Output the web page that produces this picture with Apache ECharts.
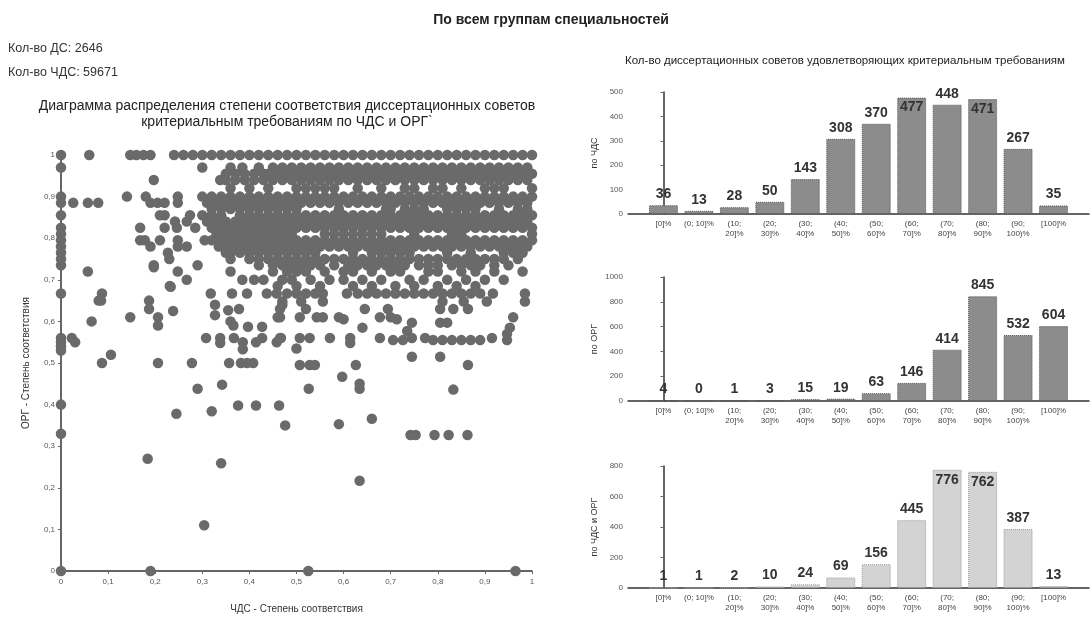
<!DOCTYPE html>
<html><head><meta charset="utf-8">
<script src="https://cdn.jsdelivr.net/npm/echarts/dist/echarts.min.js"></script>
<style>html,body{margin:0;padding:0;background:#fff}#c{width:1092px;height:619px}</style>
</head><body><div id="c"></div>
<script>
// ---- bar chart data ----
const categories = ['[0]%', '(0; 10]%', '(10;\n20]%', '(20;\n30]%', '(30;\n40]%', '(40;\n50]%', '(50;\n60]%', '(60;\n70]%', '(70;\n80]%', '(80;\n90]%', '(90;\n100)%', '[100]%'];
const chdsCounts = [36, 13, 28, 50, 143, 308, 370, 477, 448, 471, 267, 35];
const orgCounts  = [4, 0, 1, 3, 15, 19, 63, 146, 414, 845, 532, 604];
const bothCounts = [1, 1, 2, 10, 24, 69, 156, 445, 776, 762, 387, 13];

// ---- scatter data (x = ЧДС, y = ОРГ), rows of points sharing the same y ----
const scatterRowY = [1, 0.97, 0.955, 0.94, 0.92, 0.90, 0.885, 0.87, 0.855, 0.84, 0.825, 0.81, 0.795, 0.78, 0.765, 0.75, 0.735, 0.72, 0.70, 0.685, 0.667];
const scatterRowX = [
  [0,0.06,0.147,0.16,0.175,0.19,0.24,0.26,0.28,0.30,0.32,0.34,0.36,0.38,0.40,0.42,0.44,0.46,0.48,0.50,0.52,0.54,0.56,0.58,0.60,0.62,0.64,0.66,0.68,0.70,0.72,0.74,0.76,0.78,0.80,0.82,0.84,0.86,0.88,0.90,0.92,0.94,0.96,0.98,1],
  [0,0.3,0.36,0.385,0.42,0.45,0.47,0.49,0.51,0.53,0.55,0.57,0.59,0.61,0.63,0.65,0.67,0.69,0.71,0.73,0.75,0.77,0.79,0.81,0.83,0.85,0.87,0.89,0.91,0.93,0.95,0.97,0.99],
  [0.35,0.37,0.39,0.41,0.43,0.44,0.46,0.48,0.50,0.52,0.54,0.56,0.58,0.60,0.62,0.64,0.66,0.68,0.70,0.72,0.74,0.76,0.78,0.80,0.82,0.84,0.86,0.88,0.90,0.92,0.94,0.96,0.98,1],
  [0.197,0.338,0.35,0.37,0.39,0.41,0.43,0.45,0.47,0.49,0.51,0.53,0.55,0.57,0.59,0.61,0.63,0.65,0.67,0.69,0.71,0.73,0.75,0.77,0.79,0.81,0.83,0.85,0.87,0.89,0.91,0.93,0.95,0.97,0.99],
  [0.36,0.40,0.44,0.50,0.52,0.54,0.56,0.58,0.63,0.68,0.73,0.75,0.79,0.81,0.85,0.90,0.92,0.94,1],
  [0,0.14,0.18,0.248,0.30,0.32,0.34,0.36,0.38,0.40,0.42,0.44,0.46,0.48,0.50,0.52,0.54,0.56,0.58,0.60,0.62,0.64,0.66,0.68,0.70,0.72,0.74,0.76,0.78,0.80,0.82,0.84,0.86,0.88,0.90,0.92,0.94,0.96,0.98,1],
  [0,0.026,0.057,0.079,0.19,0.205,0.22,0.248,0.31,0.33,0.35,0.37,0.39,0.41,0.43,0.45,0.47,0.49,0.51,0.53,0.55,0.57,0.59,0.61,0.63,0.65,0.67,0.69,0.71,0.73,0.75,0.77,0.79,0.81,0.83,0.85,0.87,0.89,0.91,0.93,0.95,0.97,0.99],
  [0.32,0.34,0.36,0.38,0.40,0.42,0.44,0.46,0.48,0.50,0.59,0.69,0.70,0.73,0.75,0.77,0.82,0.84,0.86,0.88,0.93,0.97,0.99],
  [0,0.21,0.22,0.274,0.30,0.32,0.34,0.38,0.40,0.42,0.44,0.46,0.48,0.50,0.52,0.54,0.56,0.58,0.60,0.62,0.64,0.66,0.68,0.70,0.72,0.74,0.76,0.78,0.80,0.82,0.84,0.86,0.88,0.90,0.92,0.94,0.96,0.98,1],
  [0.242,0.267,0.31,0.33,0.35,0.37,0.39,0.41,0.43,0.45,0.47,0.49,0.51,0.53,0.55,0.57,0.59,0.61,0.63,0.65,0.67,0.69,0.71,0.73,0.75,0.77,0.79,0.81,0.83,0.85,0.87,0.89,0.91,0.93,0.95,0.97,0.99],
  [0,0.168,0.22,0.246,0.285,0.32,0.34,0.36,0.38,0.40,0.42,0.44,0.46,0.48,0.50,0.52,0.54,0.56,0.58,0.60,0.62,0.64,0.66,0.68,0.70,0.72,0.74,0.76,0.78,0.80,0.82,0.84,0.86,0.88,0.90,0.92,0.94,0.96,0.98,1],
  [0,0.33,0.35,0.37,0.39,0.41,0.43,0.45,0.47,0.49,0.56,0.58,0.60,0.62,0.64,0.66,0.68,0.75,0.83,0.85,1],
  [0,0.168,0.178,0.21,0.248,0.305,0.32,0.34,0.36,0.38,0.40,0.42,0.44,0.46,0.48,0.50,0.52,0.54,0.56,0.58,0.60,0.62,0.64,0.66,0.68,0.70,0.72,0.74,0.76,0.78,0.80,0.82,0.84,0.86,0.88,0.90,0.92,0.94,0.96,0.98,1],
  [0,0.19,0.248,0.267,0.335,0.35,0.37,0.39,0.41,0.43,0.45,0.47,0.49,0.51,0.53,0.55,0.57,0.59,0.61,0.63,0.65,0.67,0.69,0.71,0.73,0.75,0.77,0.79,0.81,0.83,0.85,0.87,0.89,0.91,0.93,0.95,0.97,0.99],
  [0,0.227,0.35,0.36,0.38,0.40,0.42,0.44,0.46,0.48,0.50,0.52,0.54,0.62,0.66,0.68,0.70,0.72,0.74,0.82,0.87,0.94,0.96,0.98],
  [0,0.23,0.36,0.40,0.42,0.44,0.46,0.48,0.50,0.52,0.54,0.56,0.58,0.60,0.62,0.64,0.66,0.68,0.70,0.72,0.74,0.76,0.78,0.80,0.82,0.84,0.86,0.88,0.90,0.92,0.94,0.97],
  [0,0.197,0.29,0.42,0.45,0.47,0.49,0.51,0.53,0.55,0.58,0.61,0.63,0.65,0.67,0.69,0.71,0.73,0.76,0.78,0.80,0.83,0.85,0.87,0.89,0.92,0.95],
  [0.057,0.248,0.36,0.45,0.48,0.50,0.52,0.56,0.60,0.62,0.66,0.70,0.72,0.78,0.80,0.85,0.88,0.92,0.98],
  [0.267,0.385,0.41,0.43,0.47,0.49,0.53,0.57,0.60,0.64,0.68,0.74,0.77,0.82,0.86,0.90,0.94],
  [0.231,0.46,0.50,0.55,0.62,0.66,0.71,0.75,0.80,0.84,0.88],
  [0,0.087,0.318,0.363,0.395,0.437,0.458,0.48,0.50,0.52,0.54,0.556,0.607,0.63,0.65,0.67,0.69,0.71,0.73,0.75,0.77,0.79,0.81,0.83,0.85,0.87,0.89,0.917,0.985]
];
const scatterSingles = [
  [0.47,0.648],[0.51,0.648],[0.556,0.648],[0.81,0.648],[0.855,0.648],[0.904,0.648],[0.985,0.648],
  [0.52,0.63],[0.645,0.63],[0.694,0.63],[0.805,0.63],[0.833,0.63],[0.864,0.63],
  [0.465,0.61],[0.507,0.61],[0.543,0.61],[0.556,0.61],[0.59,0.61],[0.6,0.605],[0.677,0.61],[0.7,0.61],[0.713,0.605],[0.96,0.61],
  [0.745,0.597],[0.805,0.597],[0.82,0.597],[0.64,0.585],[0.953,0.585],[0.735,0.577],
  [0.465,0.56],[0.507,0.56],[0.528,0.56],[0.571,0.56],[0.614,0.56],[0.677,0.56],[0.705,0.555],[0.726,0.555],[0.745,0.56],[0.773,0.56],
  [0.79,0.555],[0.81,0.555],[0.83,0.555],[0.85,0.555],[0.87,0.555],[0.89,0.555],[0.915,0.56],[0.947,0.555],[0.947,0.57],
  [0.5,0.535],[0.614,0.548],[0.745,0.515],[0.805,0.515],
  [0.507,0.495],[0.528,0.495],[0.539,0.495],[0.626,0.495],[0.864,0.495],[0.597,0.467],
  [0.29,0.438],[0.342,0.448],[0.526,0.438],[0.634,0.45],[0.634,0.438],[0.833,0.436],
  [0.66,0.366],[0.476,0.35],[0.59,0.353],
  [0.742,0.327],[0.753,0.327],[0.793,0.327],[0.823,0.327],[0.863,0.327],
  [0,0.4],[0,0.33],[0.245,0.378],[0.32,0.384],[0.376,0.398],[0.414,0.398],[0.463,0.398],
  [0.184,0.27],[0.34,0.259],[0.634,0.217],[0.304,0.11],
  [0,0],[0.19,0],[0.525,0],[0.965,0],
  [0.08,0.65],[0.065,0.6],[0.147,0.61],[0.187,0.65],[0.187,0.63],[0.206,0.61],[0.206,0.59],[0.238,0.625],
  [0.327,0.64],[0.327,0.615],[0.355,0.627],[0.36,0.6],[0.366,0.59],[0.378,0.63],[0.397,0.587],[0.427,0.587],
  [0.465,0.63],[0.47,0.64],[0.46,0.61],
  [0,0.56],[0,0.55],[0,0.54],[0,0.53],[0.023,0.56],[0.03,0.55],[0.087,0.5],[0.106,0.52],[0.206,0.5],[0.278,0.5],
  [0.308,0.56],[0.338,0.56],[0.338,0.548],[0.367,0.56],[0.386,0.55],[0.386,0.533],[0.414,0.55],[0.427,0.56],[0.458,0.55],[0.467,0.56],
  [0.357,0.5],[0.382,0.5],[0.395,0.5],[0.408,0.5],
  [0.085,0.65],[0.197,0.73],[0.233,0.683]
];

// ---- build ----
const scatterData = [];
scatterRowY.forEach((y, i) => scatterRowX[i].forEach(x => scatterData.push([x, y])));
scatterSingles.forEach(p => scatterData.push(p));

const FONT = "'Liberation Sans', Arial, sans-serif";
const comma = v => String(+(+v).toFixed(1)).replace('.', ',');

function barGrid(i) {
  const tops = [92, 277, 466], hs = [122, 124, 122];
  return { left: 628, top: tops[i], width: 472.7, height: hs[i] };
}
function barX(i) {
  return {
    type: 'value', gridIndex: i + 1, min: -1, max: 12, interval: 1,
    axisLine: { lineStyle: { color: '#333', width: 1.5 } },
    axisTick: { show: false }, splitLine: { show: false },
    axisLabel: { fontSize: 8, lineHeight: 10, margin: 5, color: '#444', fontFamily: FONT,
      formatter: v => (v >= 0 && v < categories.length) ? categories[v] : '' }
  };
}
function barY(i, max, interval, name) {
  return {
    type: 'value', gridIndex: i + 1, min: 0, max, interval,
    name, nameLocation: 'middle', nameGap: 29, nameRotate: 90,
    nameTextStyle: { fontSize: 9, color: '#333', fontFamily: FONT },
    axisLine: { show: true, lineStyle: { color: '#333', width: 1.5 } },
    axisTick: { show: true, length: 3, lineStyle: { color: '#666' } },
    splitLine: { show: false },
    axisLabel: { fontSize: 8, margin: 5, color: '#555', fontFamily: FONT, formatter: v => String(v) }
  };
}
function barSeries(i, values, axisMax, color, border) {
  return {
    type: 'bar', xAxisIndex: i + 1, yAxisIndex: i + 1, barWidth: 29,
    itemStyle: { color, borderColor: border, borderWidth: 1, borderType: 'dotted' },
    label: { show: true, position: 'top', distance: 4, fontSize: 14, fontWeight: 'bold', color: '#333', fontFamily: FONT },
    data: values.map((v, k) => v / axisMax > 0.92
      ? { value: [k, v], label: { position: 'insideTop', distance: 3 } }
      : { value: [k, v] })
  };
}

const chart = echarts.init(document.getElementById('c'));
chart.setOption({
  backgroundColor: '#fff',
  animation: false,
  textStyle: { fontFamily: FONT },
  title: [
    { text: 'По всем группам специальностей', left: 546, top: 8, textAlign: 'center',
      textStyle: { fontSize: 14, fontWeight: 'bold', color: '#222', fontFamily: FONT } },
    { text: 'Кол-во ДС: 2646', left: 3, top: 37, textStyle: { fontSize: 12.5, fontWeight: 'normal', color: '#333', fontFamily: FONT } },
    { text: 'Кол-во ЧДС: 59671', left: 3, top: 61, textStyle: { fontSize: 12.5, fontWeight: 'normal', color: '#333', fontFamily: FONT } },
    { text: 'Диаграмма распределения степени соответствия диссертационных советов\nкритериальным требованиям по ЧДС и ОРГ`', left: 282, top: 93, textAlign: 'center',
      textStyle: { fontSize: 14, fontWeight: 'normal', lineHeight: 16, color: '#222', fontFamily: FONT } },
    { text: 'Кол-во диссертационных советов удовлетворяющих критериальным требованиям', left: 840, top: 50, textAlign: 'center',
      textStyle: { fontSize: 11.5, fontWeight: 'normal', color: '#222', fontFamily: FONT } }
  ],
  grid: [
    { left: 61, top: 155, width: 471, height: 426 },
    barGrid(0), barGrid(1), barGrid(2)
  ],
  xAxis: [
    { type: 'value', gridIndex: 0, min: 0, max: 1, interval: 0.1,
      name: 'ЧДС - Степень соответствия', nameLocation: 'middle', nameGap: 33,
      nameTextStyle: { fontSize: 10, color: '#333', fontFamily: FONT },
      axisLine: { lineStyle: { color: '#333', width: 1.5 } },
      axisTick: { show: true, length: 3, lineStyle: { color: '#666' } },
      splitLine: { show: false },
      axisLabel: { fontSize: 8, margin: 7, color: '#555', formatter: comma, fontFamily: FONT } },
    barX(0), barX(1), barX(2)
  ],
  yAxis: [
    { type: 'value', gridIndex: 0, min: 0, max: 1, interval: 0.1,
      name: 'ОРГ - Степень соответствия', nameLocation: 'middle', nameGap: 30, nameRotate: 90,
      nameTextStyle: { fontSize: 10, color: '#333', fontFamily: FONT },
      axisLine: { show: true, lineStyle: { color: '#333', width: 1.5 } },
      axisTick: { show: true, length: 3, lineStyle: { color: '#666' } },
      splitLine: { show: false },
      axisLabel: { fontSize: 8, margin: 6, color: '#555', formatter: comma, fontFamily: FONT } },
    barY(0, 500, 100, 'по ЧДС'), barY(1, 1000, 200, 'по ОРГ'), barY(2, 800, 200, 'по ЧДС и ОРГ')
  ],
  series: [
    { type: 'scatter', xAxisIndex: 0, yAxisIndex: 0, symbolSize: 10.5, clip: false,
      itemStyle: { color: '#6a6a6a', opacity: 1 },
      data: scatterData },
    barSeries(0, chdsCounts, 500, '#8c8c8c', '#555'),
    barSeries(1, orgCounts, 1000, '#8c8c8c', '#555'),
    barSeries(2, bothCounts, 800, '#d3d3d3', '#999')
  ]
});
</script>
</body></html>
